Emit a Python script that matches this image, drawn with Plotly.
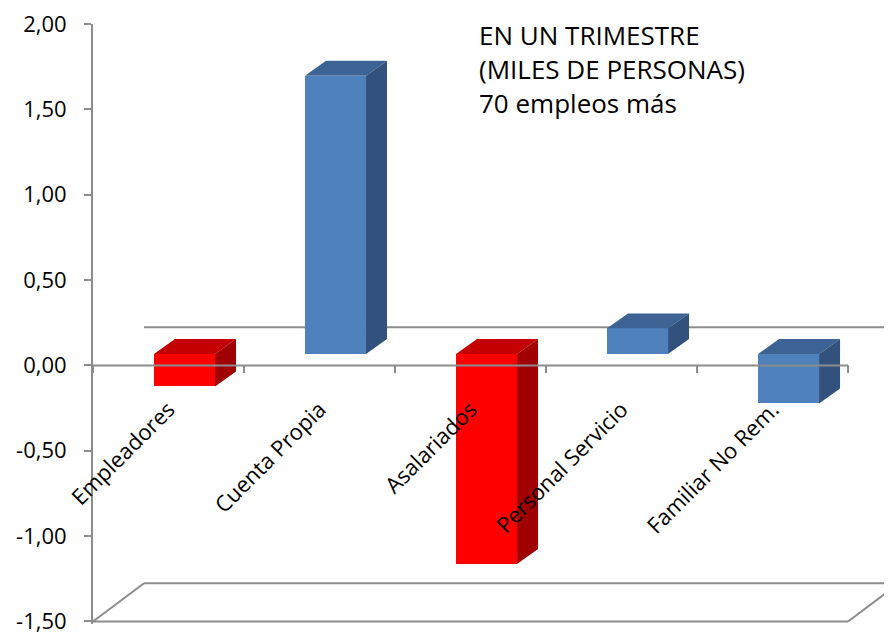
import plotly.graph_objects as go

# ---- data ----
categories = ["Empleadores", "Cuenta Propia", "Asalariados", "Personal Servicio", "Familiar No Rem."]
values = [-0.19, 1.63, -1.23, 0.15, -0.29]
y_tickvals = [-1.5, -1.0, -0.5, 0.0, 0.5, 1.0, 1.5, 2.0]
y_ticktext = ["-1,50", "-1,00", "-0,50", "0,00", "0,50", "1,00", "1,50", "2,00"]
title_lines = ["EN UN TRIMESTRE", "(MILES DE PERSONAS)", "70 empleos más"]

# ---- style / geometry (in axis units) ----
FONT = "Open Sans"
GRAY = "#8c8c8c"
RED = ("#FF0000", "#C40000", "#A00000")
BLUE = ("#4F81BD", "#3C6394", "#32527D")
bar_styles = [RED, BLUE, RED, BLUE, BLUE]
wall_dx, wall_dy = 0.338, 0.224      # full depth shift of the 3D box
bar_front_dx, bar_front_dy = 0.106, 0.067  # bar front face depth shift
bar_dx, bar_dy = 0.139, 0.087        # bar depth
bar_w = 0.404
x_max = 5.291

fig = go.Figure()

n = len(categories)
xc = [i + 0.5 + bar_front_dx for i in range(n)]

# side and top faces
for i, v in enumerate(values):
    front, top, side = bar_styles[i]
    lo = min(bar_front_dy, bar_front_dy + v)
    hi = max(bar_front_dy, bar_front_dy + v)
    xl = xc[i] - bar_w / 2
    xr = xc[i] + bar_w / 2
    fig.add_trace(go.Scatter(
        x=[xl, xr, xr + bar_dx, xl + bar_dx, xl],
        y=[hi, hi, hi + bar_dy, hi + bar_dy, hi],
        fill="toself", fillcolor=top, mode="lines", line=dict(width=0, color=top),
        hoverinfo="skip", showlegend=False))
    fig.add_trace(go.Scatter(
        x=[xr, xr, xr + bar_dx, xr + bar_dx, xr],
        y=[lo, hi, hi + bar_dy, lo + bar_dy, lo],
        fill="toself", fillcolor=side, mode="lines", line=dict(width=0, color=side),
        hoverinfo="skip", showlegend=False))

# front faces
fig.add_trace(go.Bar(
    x=xc, y=values, base=[bar_front_dy] * n, width=bar_w,
    marker=dict(color=[s[0] for s in bar_styles], line=dict(width=0)),
    showlegend=False, hoverinfo="skip"))

shapes = []
ln = dict(color=GRAY, width=2)
# back zero line (behind bars)
shapes.append(dict(type="line", xref="x", yref="y", x0=wall_dx, x1=x_max + 1,
                   y0=wall_dy, y1=wall_dy, line=ln, layer="below"))
# floor
y_min = y_tickvals[0]
shapes.append(dict(type="line", xref="x", yref="y", x0=0, x1=n, y0=y_min, y1=y_min, line=ln, layer="below"))
shapes.append(dict(type="line", xref="x", yref="y", x0=0, x1=wall_dx, y0=y_min, y1=y_min + wall_dy, line=ln, layer="below"))
shapes.append(dict(type="line", xref="x", yref="y", x0=wall_dx, x1=x_max + 1, y0=y_min + wall_dy, y1=y_min + wall_dy, line=ln, layer="below"))
shapes.append(dict(type="line", xref="x", yref="y", x0=n, x1=n + wall_dx, y0=y_min, y1=y_min + wall_dy, line=ln, layer="below"))
# front zero axis line with ticks (above bars)
shapes.append(dict(type="line", xref="x", yref="y", x0=0, x1=n, y0=0, y1=0, line=ln, layer="above"))
for k in range(n + 1):
    shapes.append(dict(type="line", xref="x", yref="y", x0=k, x1=k, y0=0, y1=-0.045, line=ln, layer="above"))

fig.update_layout(
    width=884, height=627,
    margin=dict(l=85, r=0, t=12, b=10),
    paper_bgcolor="white", plot_bgcolor="white",
    font=dict(family=FONT, size=22, color="black"),
    shapes=shapes,
    bargap=0,
    xaxis=dict(range=[0, x_max], showgrid=False, zeroline=False, showline=False,
               tickmode="array", tickvals=[i + 0.5 for i in range(n)], ticktext=categories,
               tickangle=-45, ticks="", anchor="free", position=(0 + 1.515) / 3.515,
               ticklabelstandoff=26, tickfont=dict(family=FONT, size=22, color="black")),
    yaxis=dict(range=[-1.515, 2.0], showgrid=False, zeroline=False, showline=True,
               linecolor=GRAY, linewidth=2, ticks="outside", ticklen=7, tickcolor=GRAY,
               tickwidth=2, tickmode="array", tickvals=y_tickvals, ticktext=y_ticktext,
               ticklabeloverflow="allow",
               ticklabelstandoff=13, tickfont=dict(family=FONT, size=22, color="black")),
    annotations=[dict(xref="paper", yref="paper", x=(477 - 93) / 799, y=1.015,
                      xanchor="left", yanchor="top", align="left", showarrow=False,
                      text="<br>".join(title_lines),
                      font=dict(family=FONT, size=26, color="black"))],
)

fig.write_html("out.html")
